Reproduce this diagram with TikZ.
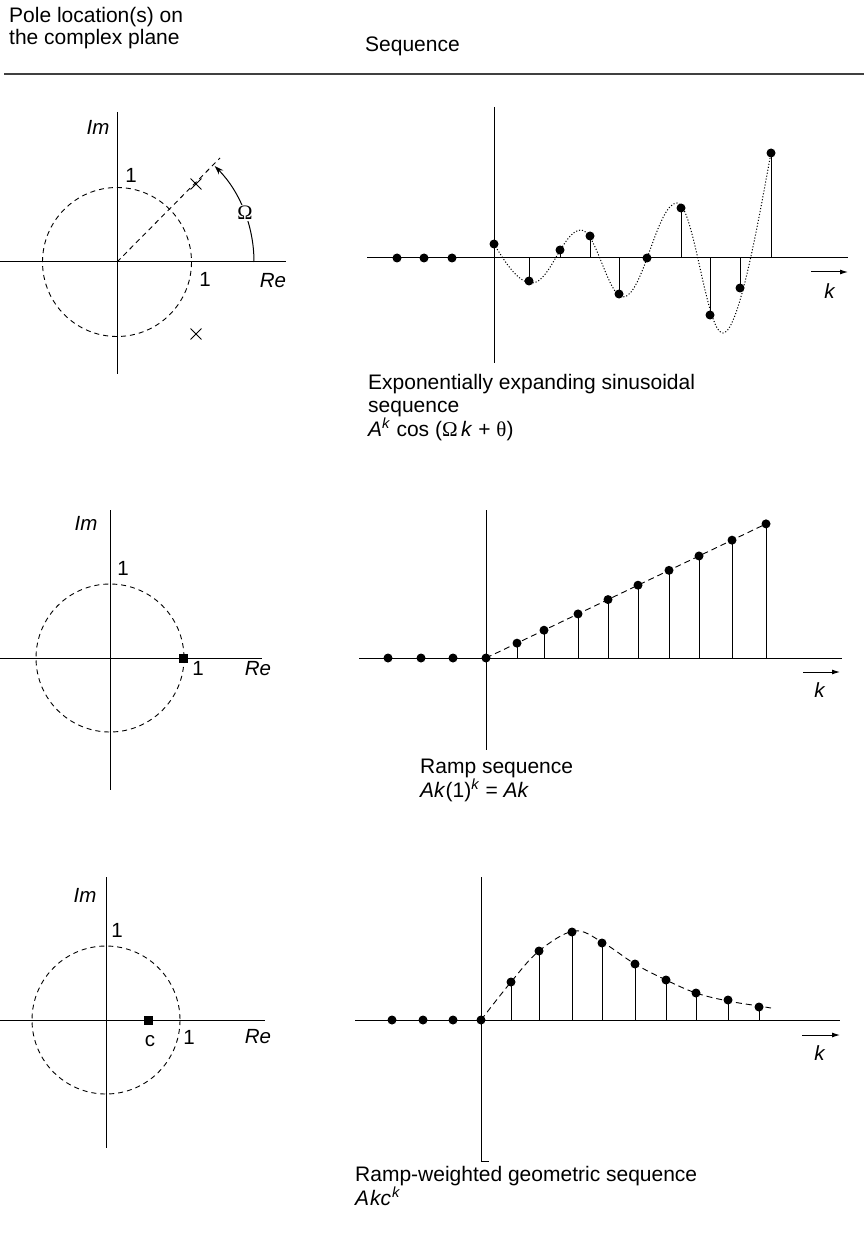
\documentclass[tikz,border=0pt]{standalone}
\usepackage{fontspec}
\setmainfont{Liberation Sans}
\newfontfamily\grk{Liberation Serif}
\usetikzlibrary{arrows.meta,shapes.misc}
\begin{document}
\begin{tikzpicture}[x=1pt,y=-1pt,
  ax/.style={line width=1pt},
  circd/.style={line width=0.9pt, dash pattern=on 5pt off 4pt},
  rampd/.style={line width=0.9pt, dash pattern=on 6pt off 4pt},
  sinc/.style={line width=1pt, dash pattern=on 1.1pt off 1.9pt},
  dotc/.style={fill=black, circle, inner sep=0pt, minimum size=9pt},
  stem/.style={line width=0.9pt},
  polex/.style={cross out, draw, line width=0.9pt, minimum size=10pt, inner sep=0pt},
  poles/.style={fill=black, rectangle, inner sep=0pt, minimum size=9pt},
  lbl/.style={font=\fontsize{20.5}{23}\selectfont, inner sep=0pt},
  captxt/.style={font=\fontsize{21}{22}\selectfont, inner sep=0pt, anchor=base west, align=left},
  karrow/.style={line width=1pt, -{Latex[length=8pt,width=5pt]}}
]
\useasboundingbox (0,0) rectangle (864,1246);

% header (anchor = baseline of the last line)
\node[captxt] (h1) at (9,45) {Pole location(s) on\\the complex plane};
\node[captxt] (h3) at (365,52) {Sequence};
\coordinate (hl) at (4,74);
\coordinate (hr) at (864,74);
\draw[line width=2.2pt, black!75] (hl) -- (hr);

%% ---------- top pole plot
\coordinate (O1) at (117,262);
\coordinate (v1t) at (117,112); \coordinate (v1b) at (117,374);
\coordinate (h1l) at (0,262);   \coordinate (h1r) at (286,262);
\draw[ax] (v1t) -- (v1b);
\draw[ax] (h1l) -- (h1r);
\draw[circd] (O1) circle[radius=74.5];
\coordinate (r1) at (220,158);
\draw[circd] (O1) -- (r1);
\node[polex] (p1a) at (196,184) {};
\node[polex] (p1b) at (196,334) {};
\draw[ax, -{Stealth[length=9pt,width=6pt]}] (254,262) arc[start angle=0, end angle=-44.5, radius=137];
\node[lbl, fill=white, inner sep=1.5pt] (om) at (245,213) {\grk Ω};
\node[lbl] (im1) at (98,127) {\textit{Im}};
\node[lbl] (one1a) at (131,175) {1};
\node[lbl] (one1b) at (205,279) {1};
\node[lbl] (re1) at (273,281) {\textit{Re}};

%% ---------- top sequence
\coordinate (tax) at (367,258);
\coordinate (taxr) at (848,258);
\draw[ax] (tax) -- (taxr);
\coordinate (tvt) at (494,107); \coordinate (tvb) at (494,363);
\draw[ax] (tvt) -- (tvb);
\draw[sinc] (494,244) .. controls (505,262) and (518,283) .. (532,283)
  .. controls (550,283) and (563,230) .. (581,230)
  .. controls (596,230) and (608,297) .. (623,297)
  .. controls (643,297) and (657,203) .. (677,203)
  .. controls (694,203) and (706,333) .. (723,333)
  .. controls (740,333) and (762,200) .. (771,153);
\foreach \x [count=\i] in {397,424,452} \node[dotc] (tn\i) at (\x,258) {};
\foreach \x/\y [count=\i from 0] in {494/244,529/281,560/250,590/236,619/294,647/258,681/208,710/315,740/288,771/153} {
  \node[dotc] (tp\i) at (\x,\y) {};
  \draw[stem] (tp\i.center) -- (tp\i.center |- tax);
}
\coordinate (tk1) at (811,272); \coordinate (tk2) at (848,272);
\draw[karrow] (tk1) -- (tk2);
\node[lbl] (tk) at (830,291) {\textit{k}};
\node[captxt, font=\fontsize{21}{22.5}\selectfont] (tc) at (368,436) {Exponentially expanding sinusoidal\\sequence\\\textit{A}\textsuperscript{\textit{k}} cos ({\grk Ω}\,\textit{k} + {\grk θ})};

%% ---------- middle pole plot
\coordinate (O2) at (110,658);
\coordinate (v2t) at (110,510); \coordinate (v2b) at (110,790);
\coordinate (h2l) at (0,658);   \coordinate (h2r) at (262,658);
\draw[ax] (v2t) -- (v2b);
\draw[ax] (h2l) -- (h2r);
\draw[circd] (O2) circle[radius=74];
\node[poles] (p2) at (183,658) {};
\node[lbl] (im2) at (86,523) {\textit{Im}};
\node[lbl] (one2a) at (123,568) {1};
\node[lbl] (one2b) at (198,668) {1};
\node[lbl] (re2) at (258,669) {\textit{Re}};

%% ---------- middle sequence
\coordinate (max) at (359,658);
\coordinate (maxr) at (842,658);
\draw[ax] (max) -- (maxr);
\coordinate (mvt) at (486,510); \coordinate (mvb) at (486,750);
\draw[ax] (mvt) -- (mvb);
\foreach \x [count=\i] in {388,421,453} \node[dotc] (mn\i) at (\x,658) {};
\node[dotc] (mp0) at (486,658) {};
\foreach \x [count=\i] in {517,544,578,608,638,669,699,732,766} {
  \pgfmathsetmacro{\yy}{658-0.479*(\x-486)}
  \node[dotc] (mp\i) at (\x,\yy) {};
  \draw[stem] (mp\i.center) -- (mp\i.center |- max);
}
\draw[rampd] (mp0.center) -- (mp9.center);
\coordinate (mk1) at (803,672); \coordinate (mk2) at (840,672);
\draw[karrow] (mk1) -- (mk2);
\node[lbl] (mk) at (820,690) {\textit{k}};
\node[captxt] (mc) at (420,797) {Ramp sequence\\\textit{Ak}(1)\textsuperscript{\textit{k}} = \textit{Ak}};

%% ---------- bottom pole plot
\coordinate (O3) at (106,1020);
\coordinate (v3t) at (106,877); \coordinate (v3b) at (106,1148);
\coordinate (h3l) at (0,1020);  \coordinate (h3r) at (265,1020);
\draw[ax] (v3t) -- (v3b);
\draw[ax] (h3l) -- (h3r);
\draw[circd] (O3) circle[radius=74];
\node[poles] (p3) at (148,1020) {};
\node[lbl] (c3) at (150,1041) {c};
\node[lbl] (im3) at (85,895) {\textit{Im}};
\node[lbl] (one3a) at (117,930) {1};
\node[lbl] (one3b) at (189,1037) {1};
\node[lbl] (re3) at (258,1037) {\textit{Re}};

%% ---------- bottom sequence
\coordinate (bax) at (355,1020);
\coordinate (baxr) at (840,1020);
\draw[ax] (bax) -- (baxr);
\coordinate (bvt) at (481,877); \coordinate (bvb) at (481,1161); \coordinate (bvh) at (489,1161);
\draw[ax] (bvt) -- (bvb) -- (bvh);
\foreach \x [count=\i] in {392,423,453} \node[dotc] (bn\i) at (\x,1020) {};
\node[dotc] (bp0) at (481,1020) {};
\foreach \x/\y [count=\i] in {511/982,539/951,572/932,602/943,635/964,666/980,696/993,728/1000,759/1007} {
  \node[dotc] (bp\i) at (\x,\y) {};
  \draw[stem] (bp\i.center) -- (bp\i.center |- bax);
}
\draw[rampd] plot[smooth, tension=0.6] coordinates {(481,1020) (511,982) (539,951) (574,931) (602,942) (635,964) (666,980) (696,993) (728,1001) (759,1006) (771,1008)};
\coordinate (bk1) at (802,1035); \coordinate (bk2) at (840,1035);
\draw[karrow] (bk1) -- (bk2);
\node[lbl] (bk) at (820,1053) {\textit{k}};
\node[captxt, font=\fontsize{21}{20.5}\selectfont] (bc) at (355,1205.5) {Ramp-weighted geometric sequence\\\textit{A\kern1pt kc}\textsuperscript{\kern1pt\textit{k}}};
\end{tikzpicture}
\end{document}
